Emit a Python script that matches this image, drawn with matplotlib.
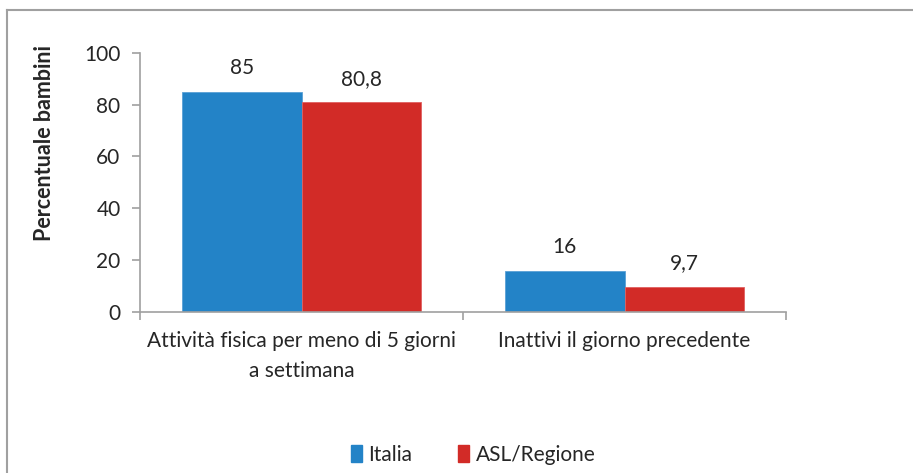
import matplotlib
matplotlib.use("Agg")
import matplotlib.pyplot as plt
from matplotlib.lines import Line2D
from matplotlib.patches import Patch
import numpy as np

categories = ["Attività fisica per meno di 5 giorni\na settimana", "Inattivi il giorno precedente"]
series_names = ["Italia", "ASL/Regione"]
italia = [85, 16]
asl = [80.8, 9.7]
italia_labels = ["85", "16"]
asl_labels = ["80,8", "9,7"]
yticks = [0, 20, 40, 60, 80, 100]

blue = "#2383c7"
red = "#d22b27"
gray = "#a0a0a0"
txt = "#262626"

plt.rcParams['font.family'] = ['Lato', 'DejaVu Sans']

fig = plt.figure(figsize=(9.13, 4.73), dpi=100)
ax = fig.add_axes([140/913, 1-312/473, (786-140)/913, (312-52.7)/473])

x = np.arange(len(categories)) + 0.5
w = 0.371
b1 = ax.bar(x - w/2, italia, w, color=blue, edgecolor="#5aa0d6", linewidth=0.6)
b2 = ax.bar(x + w/2, asl, w, color=red, edgecolor="#e06060", linewidth=0.6)

for rect, lab in zip(b1, italia_labels):
    ax.annotate(lab, (rect.get_x() + rect.get_width()/2, rect.get_height()),
                xytext=(0, 10), textcoords="offset points", ha="center", va="bottom",
                fontsize=15, color=txt)
for rect, lab in zip(b2, asl_labels):
    ax.annotate(lab, (rect.get_x() + rect.get_width()/2, rect.get_height()),
                xytext=(0, 10), textcoords="offset points", ha="center", va="bottom",
                fontsize=15, color=txt)

ax.set_xlim(0, len(categories))
ax.set_ylim(0, 100)
ax.set_yticks(yticks)
ax.set_yticklabels([str(v) for v in yticks], fontsize=15, color=txt)
ax.set_xticks(x)
ax.set_xticklabels(categories, fontsize=15, color=txt, linespacing=1.6)
ax.tick_params(axis='x', length=0, pad=14)
ax.tick_params(axis='y', length=6, width=1.2, color=gray, pad=8)
# category boundary ticks
ax.set_xticks(np.arange(len(categories)+1), minor=True)
ax.tick_params(axis='x', which='minor', length=6, width=1.2, color=gray)

for s in ["top", "right"]:
    ax.spines[s].set_visible(False)
for s in ["left", "bottom"]:
    ax.spines[s].set_color(gray)
    ax.spines[s].set_linewidth(1.2)

ax.set_ylabel("Percentuale bambini", fontsize=15.5, fontweight="bold", color=txt)
ax.yaxis.set_label_coords(-85/646, (312-143)/259.3)

handles = [Patch(facecolor=blue, edgecolor=blue), Patch(facecolor=red, edgecolor=red)]
fig.legend(handles, series_names, loc="center", bbox_to_anchor=(473/913, 1-455/473),
           ncol=2, frameon=False, fontsize=15, handlelength=0.55, handleheight=0.85,
           handletextpad=0.3, columnspacing=2.2, labelcolor=txt)

# figure border (left and top)
fig.add_artist(Line2D([7/913, 7/913], [0, 1-10/473], transform=fig.transFigure, color=gray, lw=1.5))
fig.add_artist(Line2D([7/913, 1], [1-10/473, 1-10/473], transform=fig.transFigure, color=gray, lw=1.5))

fig.savefig("out.png", dpi=100)
